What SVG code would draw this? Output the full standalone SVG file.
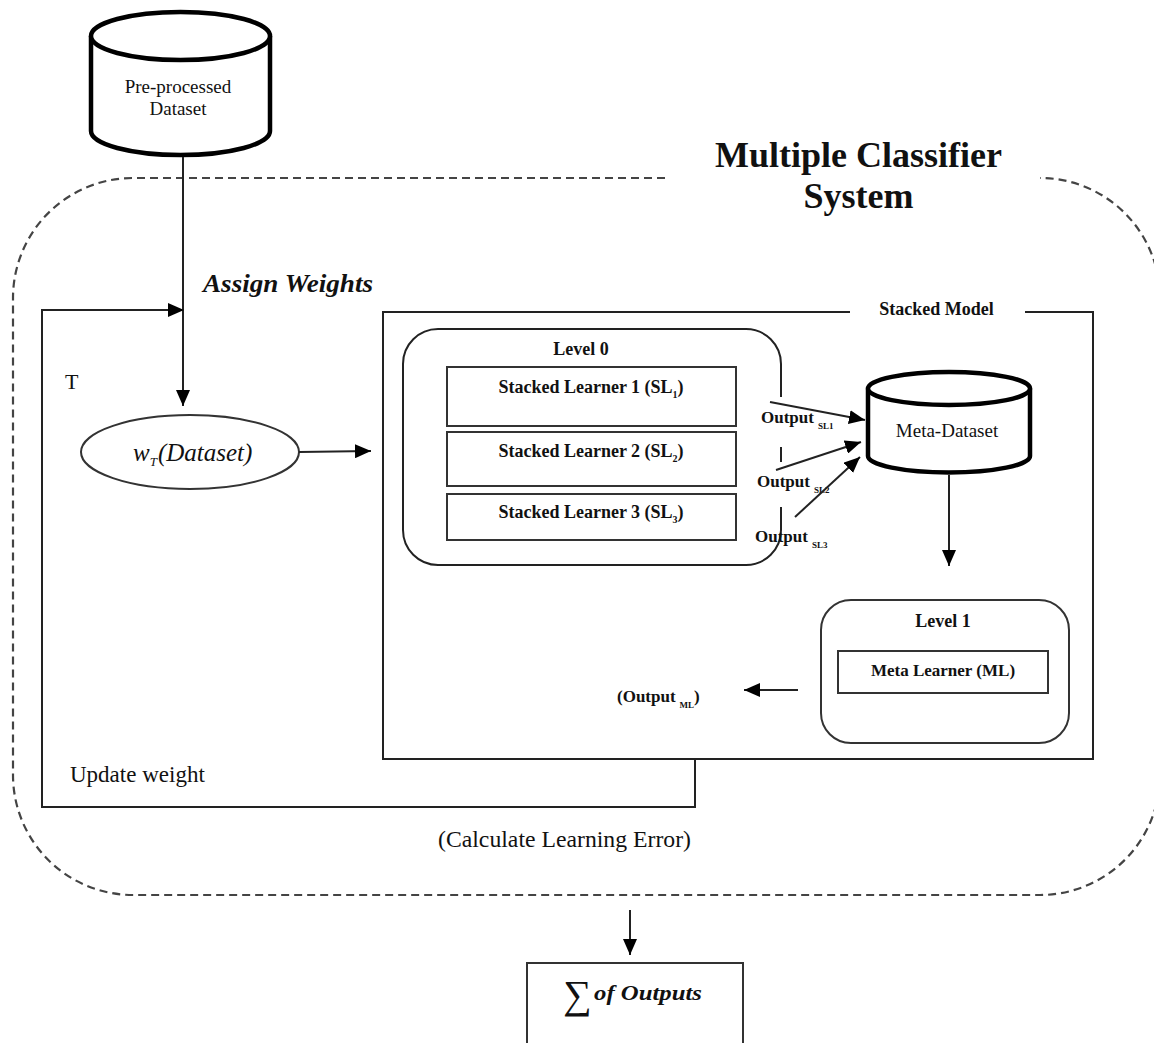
<svg xmlns="http://www.w3.org/2000/svg" width="1154" height="1043" viewBox="0 0 1154 1043">
<style>
  .ln{fill:none;stroke:#222;stroke-width:2}
  .box{fill:#fff;stroke:#333;stroke-width:2}
  .cyl{fill:#fff;stroke:#000;stroke-width:4.5}
  .dash{fill:none;stroke:#444;stroke-width:2.2;stroke-dasharray:8 5}
  .t{font-family:"Liberation Serif","Times New Roman",serif;fill:#111}
  .b{font-weight:bold}
  .i{font-style:italic}
</style>
<defs>
  <marker id="ah" markerUnits="userSpaceOnUse" markerWidth="16" markerHeight="14" refX="16" refY="7" orient="auto">
    <path d="M0,0 L16,7 L0,14 z" fill="#000"/>
  </marker>
</defs>
<rect width="1154" height="1043" fill="#fff"/>

<g id="mcs-boundary">
  <path class="dash" d="M665,178 H133 A120,120 0 0 0 13,298 V775 A120,120 0 0 0 133,895 H1040 A120,120 0 0 0 1160,775 V298 A120,120 0 0 0 1040,178"/>
  <text class="t b" x="858.5" y="167" font-size="36" text-anchor="middle">Multiple Classifier</text>
  <text class="t b" x="858.5" y="208" font-size="36" text-anchor="middle">System</text>
</g>

<g id="preprocessed-dataset">
  <path class="cyl" d="M91,36 V131 A89.5,24 0 0 0 270,131 V36"/>
  <ellipse class="cyl" cx="180.5" cy="36" rx="89.5" ry="24"/>
  <text class="t" x="178" y="93" font-size="19" text-anchor="middle">Pre-processed</text>
  <text class="t" x="178" y="115" font-size="19" text-anchor="middle">Dataset</text>
</g>

<g id="weighted-dataset">
  <ellipse class="box" cx="190" cy="452" rx="109" ry="37"/>
  <text class="t i" x="133" y="461" font-size="25">w<tspan font-size="13" dy="5">T</tspan><tspan dy="-5" dx="1">(Dataset)</tspan></text>
</g>

<g id="stacked-model">
  <path class="ln" d="M850,312 H383 V759 H1093 V312 H1025"/>
  <text class="t b" x="936.5" y="315" font-size="18" text-anchor="middle">Stacked Model</text>
</g>

<g id="level0">
  <path class="ln" d="M781,397 V364 A35,35 0 0 0 746,329 H438 A35,35 0 0 0 403,364 V530 A35,35 0 0 0 438,565 H746 A35,35 0 0 0 781,530 V507 M781,447 V462"/>
  <text class="t b" x="581" y="355" font-size="18" text-anchor="middle">Level 0</text>
</g>

<g id="sl1">
  <rect class="box" x="447" y="367" width="289" height="59"/>
  <text class="t b" x="591" y="393" font-size="18" text-anchor="middle">Stacked Learner 1 (SL<tspan font-size="10" dy="5">1</tspan><tspan dy="-5">)</tspan></text>
</g>
<g id="sl2">
  <rect class="box" x="447" y="432" width="289" height="54"/>
  <text class="t b" x="591" y="457" font-size="18" text-anchor="middle">Stacked Learner 2 (SL<tspan font-size="10" dy="5">2</tspan><tspan dy="-5">)</tspan></text>
</g>
<g id="sl3">
  <rect class="box" x="447" y="494" width="289" height="46"/>
  <text class="t b" x="591" y="518" font-size="18" text-anchor="middle">Stacked Learner 3 (SL<tspan font-size="10" dy="5">3</tspan><tspan dy="-5">)</tspan></text>
</g>

<g id="meta-dataset">
  <path class="cyl" d="M868,388.5 V456 A81,16.5 0 0 0 1030,456 V388.5"/>
  <ellipse class="cyl" cx="949" cy="388.5" rx="81" ry="16.5"/>
  <text class="t" x="947" y="437" font-size="19" text-anchor="middle">Meta-Dataset</text>
</g>

<g id="level1">
  <rect class="box" x="821" y="600" width="248" height="143" rx="30"/>
  <text class="t b" x="943" y="627" font-size="18" text-anchor="middle">Level 1</text>
  <rect class="box" x="838" y="651" width="210" height="42"/>
  <text class="t b" x="943" y="676" font-size="17" text-anchor="middle">Meta Learner (ML)</text>
</g>

<g id="sum-outputs">
  <rect class="box" x="527" y="963" width="216" height="100"/>
  <text class="t" x="563" y="1008" font-size="40" font-family="DejaVu Serif,serif">∑</text>
  <text class="t b i" x="594" y="1000" font-size="22" textLength="108" lengthAdjust="spacingAndGlyphs">of Outputs</text>
</g>

<g id="labels">
  <text class="t b i" x="203" y="292" font-size="25" textLength="170" lengthAdjust="spacingAndGlyphs">Assign Weights</text>
  <text class="t" x="65" y="389" font-size="22">T</text>
  <text class="t" x="70" y="782" font-size="23">Update weight</text>
  <text class="t" x="438" y="847" font-size="23" textLength="253" lengthAdjust="spacingAndGlyphs">(Calculate Learning Error)</text>
  <text class="t b" x="761" y="423" font-size="17">Output<tspan font-size="9" dx="4" dy="6">SL1</tspan></text>
  <text class="t b" x="757" y="487" font-size="17">Output<tspan font-size="9" dx="4" dy="6">SL2</tspan></text>
  <text class="t b" x="755" y="542" font-size="17">Output<tspan font-size="9" dx="4" dy="6">SL3</tspan></text>
  <text class="t b" x="617" y="702" font-size="17">(Output<tspan font-size="9" dx="4" dy="6">ML</tspan><tspan dy="-6">)</tspan></text>
</g>

<g id="connectors">
  <line class="ln" x1="183" y1="157" x2="183" y2="406" marker-end="url(#ah)"/>
  <path class="ln" d="M695,759 V807 H42 V310 H184" marker-end="url(#ah)"/>
  <line class="ln" x1="299" y1="452" x2="371" y2="451" marker-end="url(#ah)"/>
  <line class="ln" x1="770" y1="402" x2="865" y2="420" marker-end="url(#ah)"/>
  <line class="ln" x1="776" y1="470" x2="861" y2="442" marker-end="url(#ah)"/>
  <line class="ln" x1="795" y1="517" x2="860" y2="457" marker-end="url(#ah)"/>
  <line class="ln" x1="949" y1="475" x2="949" y2="566" marker-end="url(#ah)"/>
  <line class="ln" x1="798" y1="690" x2="744" y2="690" marker-end="url(#ah)"/>
  <line class="ln" x1="630" y1="910" x2="630" y2="955" marker-end="url(#ah)"/>
</g>
</svg>
